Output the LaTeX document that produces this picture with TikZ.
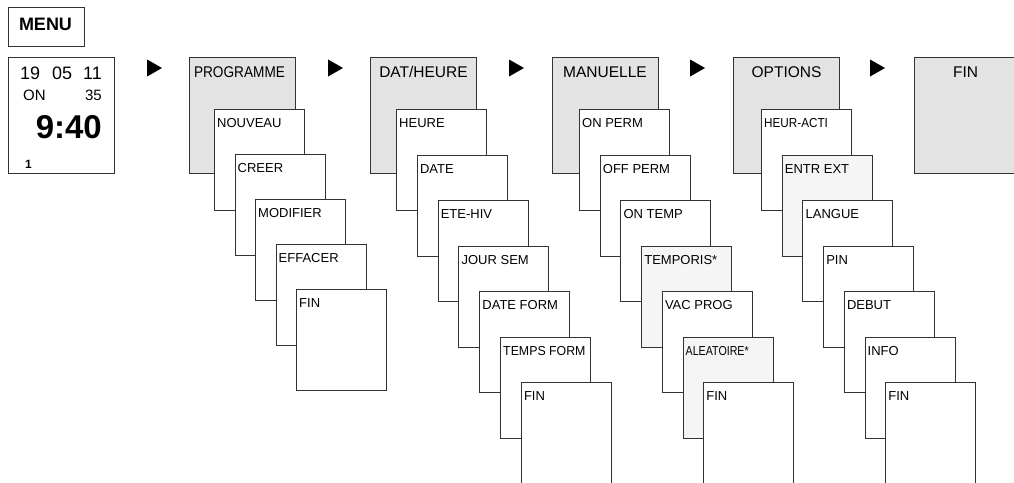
\documentclass[tikz,border=0pt]{standalone}
\usepackage{fontspec}
\setmainfont{Liberation Sans}
\usepackage{graphicx}
\usepackage{tikz}
\usetikzlibrary{shapes.geometric}

\tikzset{
  frame/.style={draw=black!80, line width=1pt, inner sep=0pt, anchor=north west},
  mainbox/.style={frame, fill=black!11, minimum width=106pt, minimum height=116pt},
  subbox/.style={frame, fill=white, minimum width=90pt, minimum height=101pt},
  starbox/.style={subbox, fill=black!4},
  maintext/.style={anchor=base, inner sep=0pt, font=\fontsize{15.5}{16}\selectfont},
  subtext/.style={anchor=base west, inner sep=0pt, font=\fontsize{13}{14}\selectfont},
  nexttri/.style={isosceles triangle, isosceles triangle stretches, fill=black,
    inner sep=0pt, minimum width=17pt, minimum height=15pt},
}

\begin{document}
\begin{tikzpicture}[x=1pt, y=-1pt]
\useasboundingbox (0,0) rectangle (1014,482);
\clip (0,0) rectangle (1014,482);

% menu key and display
\node[frame, minimum width=76pt, minimum height=39pt] (menu) at (8,7) {};
\node[anchor=base, inner sep=0pt, font=\fontsize{18}{18}\selectfont\bfseries]
   (menut) at ([shift={(-1,23)}]menu.north) {MENU};
\node[frame, minimum width=106pt, minimum height=116pt] (disp) at (8,57) {};
\node[anchor=base west, inner sep=0pt, font=\fontsize{18}{18}\selectfont] (day) at (20,79) {19};
\node[anchor=base west, inner sep=0pt, font=\fontsize{18}{18}\selectfont] (month) at (52,79) {05};
\node[anchor=base east, inner sep=0pt, font=\fontsize{18}{18}\selectfont] (year) at (102,79) {11};
\node[anchor=base west, inner sep=0pt, font=\fontsize{15}{15}\selectfont] (state) at (23,100) {ON};
\node[anchor=base east, inner sep=0pt, font=\fontsize{15}{15}\selectfont] (sec) at (102,100) {35};
\node[anchor=base east, inner sep=0pt, font=\fontsize{33}{33}\selectfont\bfseries] (clock) at (102,138) {9:40};
\node[anchor=base west, inner sep=0pt, font=\fontsize{12}{12}\selectfont\bfseries] (chan) at (25,168) {1};

% arrows between the menus
\foreach \x [count=\i] in {152,333,514,695,875}
  \node[nexttri] (tri\i) at (\x,68) {};

% main menus
\node[mainbox] (prog) at (189,57) {};
\node[maintext] (progt) at ([shift={(-3,20)}]prog.north) {\scalebox{0.88}[1]{PROGRAMME}};
\node[mainbox] (dat) at (370,57) {};
\node[maintext] (datt) at ([shift={(0,20)}]dat.north) {DAT/HEURE};
\node[mainbox] (man) at (551.5,57) {};
\node[maintext] (mant) at ([shift={(0,20)}]man.north) {MANUELLE};
\node[mainbox] (opt) at (733,57) {};
\node[maintext] (optt) at ([shift={(0,20)}]opt.north) {OPTIONS};
\node[mainbox] (fin) at (914,57) {};
\node[maintext] (fint) at ([shift={(-2,20)}]fin.north) {FIN};

% sub menus
\foreach \txt/\sty [count=\k from 0] in {NOUVEAU/subbox, CREER/subbox,
    MODIFIER/subbox, EFFACER/subbox, FIN/subbox} {
  \node[\sty] (prog\k) at (214+20.5*\k, 109+45*\k) {};
  \node[subtext] (progt\k) at ([shift={(3,18.7)}]prog\k.north west) {\txt};
}
\foreach \txt/\sty [count=\k from 0] in {HEURE/subbox, DATE/subbox,
    ETE-HIV/subbox, JOUR SEM/subbox, DATE FORM/subbox,
    {\scalebox{0.95}[1]{TEMPS FORM}}/subbox, FIN/subbox} {
  \node[\sty] (dat\k) at (396+20.8*\k, 109+45.5*\k) {};
  \node[subtext] (datt\k) at ([shift={(3,18.7)}]dat\k.north west) {\txt};
}
\foreach \txt/\sty [count=\k from 0] in {ON PERM/subbox, OFF PERM/subbox,
    ON TEMP/subbox, TEMPORIS*/starbox, VAC PROG/subbox,
    {\scalebox{0.82}[1]{ALEATOIRE*}}/starbox, FIN/subbox} {
  \node[\sty] (man\k) at (579+20.7*\k, 109+45.5*\k) {};
  \node[subtext] (mant\k) at ([shift={(3,18.7)}]man\k.north west) {\txt};
}
\foreach \txt/\sty [count=\k from 0] in {{\scalebox{0.9}[1]{HEUR-ACTI}}/subbox,
    ENTR EXT/starbox, LANGUE/subbox, PIN/subbox, DEBUT/subbox,
    INFO/subbox, FIN/subbox} {
  \node[\sty] (opt\k) at (761+20.7*\k, 109+45.5*\k) {};
  \node[subtext] (optt\k) at ([shift={(3,18.7)}]opt\k.north west) {\txt};
}
\end{tikzpicture}
\end{document}
